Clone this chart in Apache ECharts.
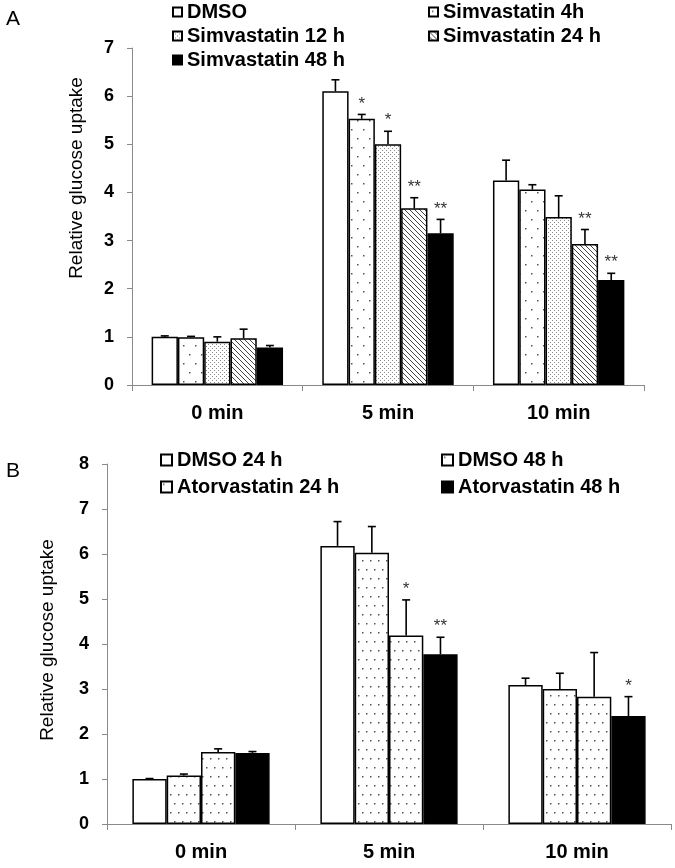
<!DOCTYPE html>
<html>
<head>
<meta charset="utf-8">
<script src="https://cdn.jsdelivr.net/npm/echarts@6/dist/echarts.min.js"></script>
<style>
html,body{margin:0;padding:0;background:#fff;}
#chart{width:675px;height:868px;}
</style>
</head>
<body>
<div id="chart"></div>
<script>
// ---------- data ----------
const categories = ['0 min', '5 min', '10 min'];

const namesA = ['DMSO', 'Simvastatin 4h', 'Simvastatin 12 h', 'Simvastatin 24 h', 'Simvastatin 48 h'];
const dmsoA   = [1.00, 6.10, 4.25];
const sim4h   = [0.99, 5.53, 4.06];
const sim12h  = [0.90, 5.00, 3.49];
const sim24h  = [0.97, 3.67, 2.93];
const sim48h  = [0.78, 3.15, 2.18];
const dmsoAErr  = [0.02, 0.24, 0.42];
const sim4hErr  = [0.02, 0.09, 0.10];
const sim12hErr = [0.10, 0.27, 0.44];
const sim24hErr = [0.19, 0.22, 0.30];
const sim48hErr = [0.04, 0.29, 0.14];
const dmsoAStar  = ['', '', ''];
const sim4hStar  = ['', '*', ''];
const sim12hStar = ['', '*', ''];
const sim24hStar = ['', '**', '**'];
const sim48hStar = ['', '**', '**'];

const namesB = ['DMSO 24 h', 'DMSO 48 h', 'Atorvastatin 24 h', 'Atorvastatin 48 h'];
const dmso24 = [1.00, 6.18, 3.09];
const dmso48 = [1.08, 6.03, 3.00];
const ator24 = [1.60, 4.19, 2.83];
const ator48 = [1.58, 3.77, 2.40];
const dmso24Err = [0.01, 0.54, 0.15];
const dmso48Err = [0.03, 0.58, 0.35];
const ator24Err = [0.07, 0.79, 0.98];
const ator48Err = [0.03, 0.38, 0.43];
const dmso24Star = ['', '', ''];
const dmso48Star = ['', '', ''];
const ator24Star = ['', '*', ''];
const ator48Star = ['', '**', '*'];

const yMaxA = 7;
const yMaxB = 8;
const yTitle = 'Relative glucose uptake';

// ---------- patterns ----------
function makePattern(w, h, draw) {
  const c = document.createElement('canvas');
  c.width = w; c.height = h;
  const ctx = c.getContext('2d');
  ctx.fillStyle = '#fff';
  ctx.fillRect(0, 0, w, h);
  draw(ctx);
  return { image: c, repeat: 'repeat' };
}
const sparseDotsA = makePattern(12, 18, ctx => {
  ctx.fillStyle = '#555';
  ctx.fillRect(3, 3, 1.5, 1.5);
  ctx.fillRect(9, 12, 1.5, 1.5);
});
const denseDots = makePattern(4, 4, ctx => {
  ctx.fillStyle = '#888';
  ctx.fillRect(0, 0, 1, 1);
  ctx.fillRect(2, 2, 1, 1);
});
const diagLines = makePattern(5, 5, ctx => {
  ctx.strokeStyle = '#444';
  ctx.lineWidth = 1;
  ctx.beginPath();
  ctx.moveTo(-1, -1); ctx.lineTo(6, 6);
  ctx.moveTo(-6, -1); ctx.lineTo(1, 6);
  ctx.moveTo(4, -1); ctx.lineTo(11, 6);
  ctx.stroke();
});
const sparseDotsB = makePattern(8, 18, ctx => {
  ctx.fillStyle = '#555';
  ctx.fillRect(2, 2, 1.5, 1.5);
  ctx.fillRect(6, 11, 1.5, 1.5);
});

const FONT = '"Liberation Sans", Arial, sans-serif';

const valsA = [dmsoA, sim4h, sim12h, sim24h, sim48h];
const errsA = [dmsoAErr, sim4hErr, sim12hErr, sim24hErr, sim48hErr];
const starsA = [dmsoAStar, sim4hStar, sim12hStar, sim24hStar, sim48hStar];
const fillsA = ['#fff', sparseDotsA, denseDots, diagLines, '#000'];
const catGapA = 0.23;

const valsB = [dmso24, dmso48, ator24, ator48];
const errsB = [dmso24Err, dmso48Err, ator24Err, ator48Err];
const starsB = [dmso24Star, dmso48Star, ator24Star, ator48Star];
const fillsB = ['#fff', sparseDotsB, sparseDotsB, '#000'];
const catGapB = 0.27;

function barSeries(names, vals, fills, catGap, gi) {
  return names.map((n, i) => ({
    type: 'bar', name: n, xAxisIndex: gi, yAxisIndex: gi,
    data: vals[i], barGap: '0%', barCategoryGap: (catGap * 100) + '%',
    itemStyle: { color: fills[i], borderColor: '#000', borderWidth: 1.5 },
    emphasis: { disabled: true }, silent: true
  }));
}

function errSeries(vals, errs, stars, catGap, gi) {
  const n = vals.length;
  const data = [], starList = [];
  vals.forEach((arr, i) => arr.forEach((v, c) => {
    data.push([c, i, v, errs[i][c]]);
    starList.push(stars[i][c]);
  }));
  return {
    type: 'custom', name: 'err' + gi, xAxisIndex: gi, yAxisIndex: gi, z: 5, silent: true,
    data: data,
    renderItem: function (params, api) {
      const cat = api.value(0), idx = api.value(1), v = api.value(2), e = api.value(3);
      const band = api.size([1, 0])[0];
      const group = band * (1 - catGap);
      const bw = group / n;
      const cx = api.coord([cat, 0])[0] - group / 2 + (idx + 0.5) * bw;
      const yv = api.coord([cat, v])[1];
      const ye = api.coord([cat, v + e])[1];
      const st = { stroke: '#000', lineWidth: 1.6 };
      const children = [
        { type: 'line', shape: { x1: cx, y1: yv, x2: cx, y2: ye }, style: st },
        { type: 'line', shape: { x1: cx - 4, y1: ye, x2: cx + 4, y2: ye }, style: st }
      ];
      const s = starList[params.dataIndex];
      if (s) {
        children.push({ type: 'text', x: cx, y: ye - 2,
          style: { text: s, fill: '#333', font: '17px ' + FONT, align: 'center', verticalAlign: 'bottom' } });
      }
      return { type: 'group', children: children };
    }
  };
}

function legend(data, left, top, size, gap) {
  return {
    data: data, left: left, top: top, orient: 'vertical', padding: 0,
    itemWidth: size, itemHeight: size, itemGap: gap, icon: 'rect', selectedMode: false,
    textStyle: { fontFamily: FONT, fontSize: 20, fontWeight: 'bold', color: '#000', lineHeight: 20 }
  };
}

const axisLine = { lineStyle: { color: '#8a8a8a', width: 1 } };

const option = {
  animation: false,
  backgroundColor: '#fff',
  legend: [
    legend([namesA[0], namesA[2], namesA[4]], 172, 2, 9, 4),
    legend([namesA[1], namesA[3]], 428, 2, 9, 4),
    legend([namesB[0], namesB[2]], 160, 450, 11, 7),
    legend([namesB[1], namesB[3]], 441, 450, 11, 7)
  ],
  grid: [
    { left: 132, right: 31, top: 48, bottom: 483 },
    { left: 107, right: 4, top: 464, bottom: 44 }
  ],
  xAxis: [0, 1].map(i => ({
    type: 'category', gridIndex: i, data: categories,
    axisLine: axisLine,
    axisTick: { show: true, length: 6, lineStyle: { color: '#8a8a8a' } },
    axisLabel: { margin: 18, fontFamily: FONT, fontSize: 20, fontWeight: 'bold', color: '#000' }
  })),
  yAxis: [yMaxA, yMaxB].map((mx, i) => ({
    type: 'value', gridIndex: i, min: 0, max: mx, interval: 1,
    splitLine: { show: false },
    axisLine: { show: true, lineStyle: { color: '#8a8a8a', width: 1 } },
    axisTick: { show: true, length: 5, lineStyle: { color: '#8a8a8a' } },
    axisLabel: { margin: 18, fontFamily: FONT, fontSize: 18, fontWeight: 'bold', color: '#000' }
  })),
  graphic: [
    { type: 'text', x: 13, y: 19, style: { text: 'A', font: '21px ' + FONT, fill: '#000', align: 'center', verticalAlign: 'middle' } },
    { type: 'text', x: 13, y: 471, style: { text: 'B', font: '21px ' + FONT, fill: '#000', align: 'center', verticalAlign: 'middle' } },
    { type: 'text', x: 77, y: 178, rotation: Math.PI / 2, style: { text: yTitle, font: '19px ' + FONT, fill: '#000', align: 'center', verticalAlign: 'middle' } },
    { type: 'text', x: 48, y: 640, rotation: Math.PI / 2, style: { text: yTitle, font: '19px ' + FONT, fill: '#000', align: 'center', verticalAlign: 'middle' } }
  ],
  series: [].concat(
    barSeries(namesA, valsA, fillsA, catGapA, 0),
    barSeries(namesB, valsB, fillsB, catGapB, 1),
    [errSeries(valsA, errsA, starsA, catGapA, 0), errSeries(valsB, errsB, starsB, catGapB, 1)]
  )
};

const chart = echarts.init(document.getElementById('chart'), null, { renderer: 'canvas' });
chart.setOption(option);
</script>
</body>
</html>
